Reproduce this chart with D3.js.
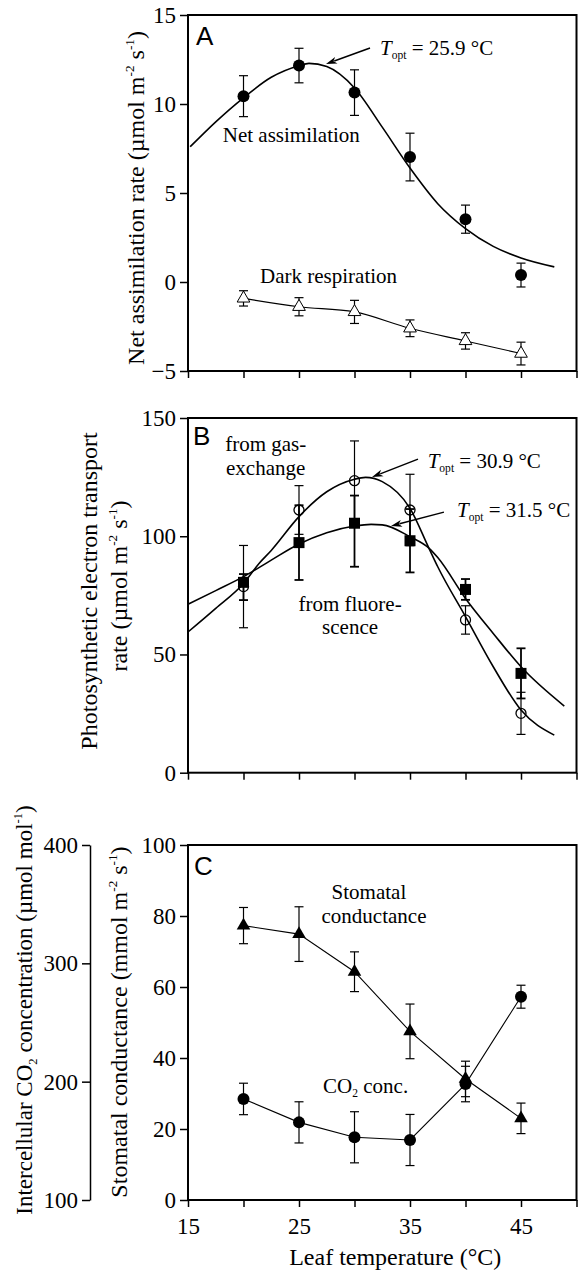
<!DOCTYPE html>
<html><head><meta charset="utf-8">
<script src="https://cdn.jsdelivr.net/npm/d3@7"></script>
<style>
body{margin:0;background:#fff}
svg{display:block}
</style></head><body>
<svg id="c" width="578" height="1273"></svg>
<script>
// ---------- data ----------
const temps = [20, 25, 30, 35, 40, 45];
const xTicks = [15, 20, 25, 30, 35, 40, 45, 50];
const xTickLabels = [15, 25, 35, 45];

// Panel A
const netAssim = [10.44, 12.16, 10.64, 7.02, 3.53, 0.39];
const netAssimErr = [1.15, 0.97, 1.28, 1.34, 0.79, 0.67];
const darkResp = [-0.92, -1.39, -1.68, -2.60, -3.31, -4.02];
const darkRespErr = [0.43, 0.51, 0.65, 0.47, 0.46, 0.64];
const netCurveT = [15.2, 17.5, 20, 22.5, 25, 25.9, 27.5, 30, 32.5, 35, 37.5, 40, 42.5, 45, 48];
const netCurveV = [7.6, 9.0, 10.35, 11.5, 12.15, 12.28, 12.1, 10.9, 8.7, 6.4, 4.4, 3.0, 2.0, 1.35, 0.85];
const yTicksA = [-5, 0, 5, 10, 15];

// Panel B
const gasEx = [78.7, 111.1, 123.5, 111.1, 64.6, 25.1];
const gasExErr = [17.4, 10.3, 16.8, 15.1, 6.0, 8.9];
const fluor = [80.5, 97.3, 105.5, 98.1, 77.5, 42.0];
const fluorErrUp = [3.5, 15.8, 11.7, 13.4, 4.4, 10.6];
const fluorErrDown = [7.5, 15.8, 18.4, 13.4, 4.4, 10.6];
const gasCurveT = [15, 17.5, 20, 21.4, 22.5, 25, 27.5, 30, 31, 32.5, 35, 36.7, 37.5, 40, 42.5, 45, 48];
const gasCurveV = [59.5, 69.5, 80, 88.5, 94, 108.3, 118.8, 124.1, 124.9, 123.1, 111.8, 95, 87.1, 66, 44.8, 26.5, 15.9];
const fluorCurveT = [15, 17.5, 20, 22.5, 25, 27.5, 30, 31.5, 32.5, 35, 36.7, 37.5, 40, 42.5, 45, 48.9];
const fluorCurveV = [71.2, 77, 82.9, 89.9, 96.7, 101.5, 104.3, 105, 104.8, 99.8, 95, 91, 73.7, 58.9, 44.8, 28.2];
const yTicksB = [0, 50, 100, 150];

// Panel C
const stomCond = [77.3, 74.9, 64.3, 47.5, 34.1, 23.0];
const stomCondErr = [5.1, 7.7, 5.6, 7.7, 5.0, 4.3];
const co2Conc = [185.4, 165.6, 153.0, 150.7, 198.0, 271.8];
const co2ConcErr = [13.3, 17.4, 21.6, 21.6, 15.0, 9.7];
const yTicksC = [0, 20, 40, 60, 80, 100];
const yTicksCO2 = [100, 200, 300, 400];

// ---------- layout ----------
const svg = d3.select("#c");
const X0 = 188, X1 = 576.5;
const x = d3.scaleLinear().domain([15, 50]).range([X0, X1]);
const yA = d3.scaleLinear().domain([-5, 15]).range([371, 15]);
const yB = d3.scaleLinear().domain([0, 150]).range([772.7, 418]);
const yC = d3.scaleLinear().domain([0, 100]).range([1200, 845]);
const yCO2 = d3.scaleLinear().domain([100, 400]).range([1200, 845]);
const SERIF = '"Liberation Serif","Times New Roman",serif';
const SANS = '"Liberation Sans",Arial,sans-serif';
const TICKFS = 23;
const TITLEFS = 24;

function styleAxis(g, hideDomain) {
  g.attr("font-family", SERIF).attr("font-size", TICKFS);
  g.selectAll(".tick line").attr("stroke-width", 1.5);
  g.selectAll(".tick text").attr("fill", "#000").attr("font-family", SERIF);
  if (hideDomain) g.select(".domain").remove();
  else g.select(".domain").attr("stroke-width", 1.5);
}

function panelAxes(y, yTicks, showXLabels) {
  const r = y.range();
  const bottom = r[0], top = r[1];
  const gy = svg.append("g").attr("transform", `translate(${X0},0)`)
    .call(d3.axisLeft(y).tickValues(yTicks).tickSize(8).tickPadding(4));
  styleAxis(gy, true);
  const gx = svg.append("g").attr("transform", `translate(0,${bottom})`)
    .call(d3.axisBottom(x).tickValues(xTicks).tickSize(7).tickPadding(11)
      .tickFormat(d => showXLabels && xTickLabels.includes(d) ? d : ""));
  styleAxis(gx, true);
  svg.append("rect").attr("x", X0).attr("y", top).attr("width", X1 - X0).attr("height", bottom - top)
    .attr("fill", "none").attr("stroke", "#000").attr("stroke-width", 2);
}

function richText(parent, x0, y0, size, anchor, parts, rotate) {
  const g = parent.append("g").attr("transform", `translate(${x0},${y0})` + (rotate ? " rotate(-90)" : ""));
  const t = g.append("text").attr("font-size", size).attr("text-anchor", anchor)
    .attr("font-family", SERIF).attr("fill", "#000");
  let shift = 0;
  parts.forEach(([s, kind]) => {
    const tsp = t.append("tspan").text(s);
    let target = 0;
    if (kind === "sup") { tsp.attr("font-size", size * 0.55); target = -size * 0.42; }
    else if (kind === "sub") { tsp.attr("font-size", size * 0.55); target = size * 0.2; }
    else if (kind === "it") { tsp.attr("font-style", "italic"); }
    tsp.attr("dy", target - shift);
    shift = target;
  });
  return t;
}

function errorBars(y, xs, vals, up, down, sw) {
  const g = svg.append("g").attr("stroke", "#000").attr("stroke-width", sw || 1.2);
  xs.forEach((t, i) => {
    const hi = y(vals[i] + up[i]), lo = y(vals[i] - down[i]), cx = x(t);
    g.append("line").attr("x1", cx).attr("x2", cx).attr("y1", hi).attr("y2", lo);
    g.append("line").attr("x1", cx - 4.5).attr("x2", cx + 4.5).attr("y1", hi).attr("y2", hi);
    g.append("line").attr("x1", cx - 4.5).attr("x2", cx + 4.5).attr("y1", lo).attr("y2", lo);
  });
}

function curve(y, ts, vs, sw, c) {
  svg.append("path").datum(ts.map((t, i) => [t, vs[i]]))
    .attr("fill", "none").attr("stroke", "#000").attr("stroke-width", sw)
    .attr("d", d3.line().x(d => x(d[0])).y(d => y(d[1])).curve(c || d3.curveMonotoneX));
}

function symbols(y, xs, vals, type, size, fill, stroke, sw) {
  svg.append("g").selectAll("path").data(xs).join("path")
    .attr("transform", (t, i) => `translate(${x(t)},${y(vals[i])})`)
    .attr("d", d3.symbol().type(type).size(size))
    .attr("fill", fill).attr("stroke", stroke).attr("stroke-width", sw);
}

function arrow(y, t0, v0, t1, v1) {
  const xa = x(t0), ya = y(v0), xb = x(t1), yb = y(v1);
  const dx = xb - xa, dy = yb - ya, L = Math.hypot(dx, dy), ux = dx / L, uy = dy / L;
  const hl = 11, hw = 3.5;
  svg.append("line").attr("x1", xa).attr("y1", ya).attr("x2", xb - ux * hl * 0.8).attr("y2", yb - uy * hl * 0.8)
    .attr("stroke", "#000").attr("stroke-width", 1.5);
  const bx = xb - ux * hl, by = yb - uy * hl;
  svg.append("path").attr("d", `M${xb},${yb}L${bx - uy * hw},${by + ux * hw}L${bx + ux * 3},${by + uy * 3}L${bx + uy * hw},${by - ux * hw}Z`)
    .attr("fill", "#000");
}

function label(x0, y0, s, size, anchor, family) {
  svg.append("text").attr("x", x0).attr("y", y0).attr("font-size", size).attr("fill", "#000")
    .attr("text-anchor", anchor || "start").attr("font-family", family || SERIF).text(s);
}

// ---------- Panel A ----------
panelAxes(yA, yTicksA, false);
curve(yA, netCurveT, netCurveV, 1.6);
curve(yA, temps, darkResp, 1.1);
errorBars(yA, temps, netAssim, netAssimErr, netAssimErr, 1.2);
errorBars(yA, temps, darkResp, darkRespErr, darkRespErr, 1.2);
symbols(yA, temps, netAssim, d3.symbolCircle, Math.PI * 36, "#000", "none", 0);
symbols(yA, temps, darkResp, d3.symbolTriangle, 70, "#fff", "#000", 1);
label(196, 45, "A", 26, "start", SANS);
arrow(yA, 31.4, 13.15, 27.43, 12.25);
richText(svg, x(32.3), yA(12.75), 21, "start", [["T", "it"], ["opt", "sub"], [" = 25.9 °C", ""]]);
label(x(18.13), yA(7.88), "Net assimilation", 21);
label(x(21.49), yA(-0.04), "Dark respiration", 21);
richText(svg, 144, 198, TITLEFS, "middle",
  [["Net assimilation rate (µmol m", ""], ["-2", "sup"], [" s", ""], ["-1", "sup"], [")", ""]], true);

// ---------- Panel B ----------
panelAxes(yB, yTicksB, false);
curve(yB, gasCurveT, gasCurveV, 1.6);
curve(yB, fluorCurveT, fluorCurveV, 1.6);
errorBars(yB, temps, gasEx, gasExErr, gasExErr, 1.2);
errorBars(yB, temps, fluor, fluorErrUp, fluorErrDown, 1.8);
symbols(yB, temps, fluor, d3.symbolSquare, 121, "#000", "none", 0);
symbols(yB, temps, gasEx, d3.symbolCircle, Math.PI * 25, "none", "#000", 1.3);
label(193, 445, "B", 26, "start", SANS);
label(x(22.0), yB(136.2), "from gas-", 21, "middle");
label(x(22.0), yB(125.9), "exchange", 21, "middle");
label(x(29.6), yB(68.4), "from fluore-", 21, "middle");
label(x(29.6), yB(58.5), "scence", 21, "middle");
arrow(yB, 35.72, 132.6, 31.58, 125.0);
arrow(yB, 38.06, 110.2, 33.29, 104.3);
richText(svg, x(36.59), yB(129.0), 21, "start", [["T", "it"], ["opt", "sub"], [" = 30.9 °C", ""]]);
richText(svg, x(39.23), yB(108.3), 21, "start", [["T", "it"], ["opt", "sub"], [" = 31.5 °C", ""]]);
richText(svg, 97, 591, TITLEFS, "middle", [["Photosynthetic electron transport", ""]], true);
richText(svg, 127, 586, TITLEFS, "middle",
  [["rate (µmol m", ""], ["-2", "sup"], [" s", ""], ["-1", "sup"], [")", ""]], true);

// ---------- Panel C ----------
panelAxes(yC, yTicksC, true);
const gco2 = svg.append("g").attr("transform", "translate(90,0)")
  .call(d3.axisLeft(yCO2).tickValues(yTicksCO2).tickSize(8).tickPadding(4).tickSizeOuter(0));
styleAxis(gco2, false);
curve(yC, temps, stomCond, 1.1, d3.curveLinear);
curve(yCO2, temps, co2Conc, 1.1, d3.curveLinear);
errorBars(yC, temps, stomCond, stomCondErr, stomCondErr, 1.2);
errorBars(yCO2, temps, co2Conc, co2ConcErr, co2ConcErr, 1.2);
symbols(yC, temps, stomCond, d3.symbolTriangle, 80, "#000", "none", 0);
symbols(yCO2, temps, co2Conc, d3.symbolCircle, Math.PI * 36, "#000", "none", 0);
label(194, 875, "C", 26, "start", SANS);
label(x(31.3), yC(84.8), "Stomatal", 21, "middle");
label(x(31.76), yC(78.1), "conductance", 21, "middle");
richText(svg, x(31.0), yC(30.1), 21, "middle", [["CO", ""], ["2", "sub"], [" conc.", ""]]);
richText(svg, 127, 1022, TITLEFS, "middle",
  [["Stomatal conductance (mmol m", ""], ["-2", "sup"], [" s", ""], ["-1", "sup"], [")", ""]], true);
richText(svg, 32, 1010, 23, "middle",
  [["Intercellular CO", ""], ["2", "sub"], [" concentration (µmol mol", ""], ["-1", "sup"], [")", ""]], true);
label((X0 + X1) / 2 + 13, 1265, "Leaf temperature (°C)", TITLEFS, "middle");
</script>
</body></html>
